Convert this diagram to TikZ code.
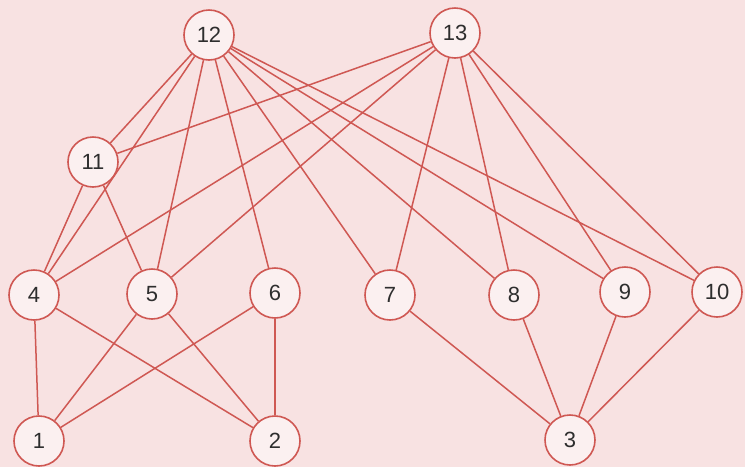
\documentclass[tikz,border=0pt]{standalone}
\usepackage{fontspec}
\setmainfont{Liberation Sans}
\definecolor{bg}{HTML}{F8E2E2}
\definecolor{edge}{HTML}{CF5853}
\definecolor{nfill}{HTML}{FBF0F0}
\definecolor{txt}{HTML}{2E2E2E}
\begin{document}
\begin{tikzpicture}[x=1pt,y=-1pt,
  vert/.style={circle,draw=edge,fill=nfill,line width=1.6pt,minimum size=50pt,inner sep=0pt,
    text=txt,font=\fontsize{22}{26}\selectfont},
  conn/.style={draw=edge,line width=1.5pt}]
\fill[bg] (0,0) rectangle (745,467);
\useasboundingbox (0,0) rectangle (745,467);
\node[vert] (n12) at (209,35) {12};
\node[vert] (n13) at (455,33) {13};
\node[vert] (n11) at (93,162) {11};
\node[vert] (n4) at (34,295) {4};
\node[vert] (n5) at (152,294) {5};
\node[vert] (n6) at (275,293) {6};
\node[vert] (n7) at (390,295) {7};
\node[vert] (n8) at (514,295) {8};
\node[vert] (n9) at (625,292) {9};
\node[vert] (n10) at (717,292) {10};
\node[vert] (n1) at (39,441) {1};
\node[vert] (n2) at (275,441) {2};
\node[vert] (n3) at (570,440) {3};
\foreach \t in {n11,n4,n5,n6,n7,n8,n9,n10}{\path[conn] (n12) -- (\t);}
\foreach \t in {n11,n4,n5,n7,n8,n9,n10}{\path[conn] (n13) -- (\t);}
\foreach \a/\b in {n11/n4,n11/n5,n4/n1,n4/n2,n5/n1,n5/n2,n6/n1,n6/n2,n7/n3,n8/n3,n9/n3,n10/n3}{\path[conn] (\a) -- (\b);}
\end{tikzpicture}
\end{document}
